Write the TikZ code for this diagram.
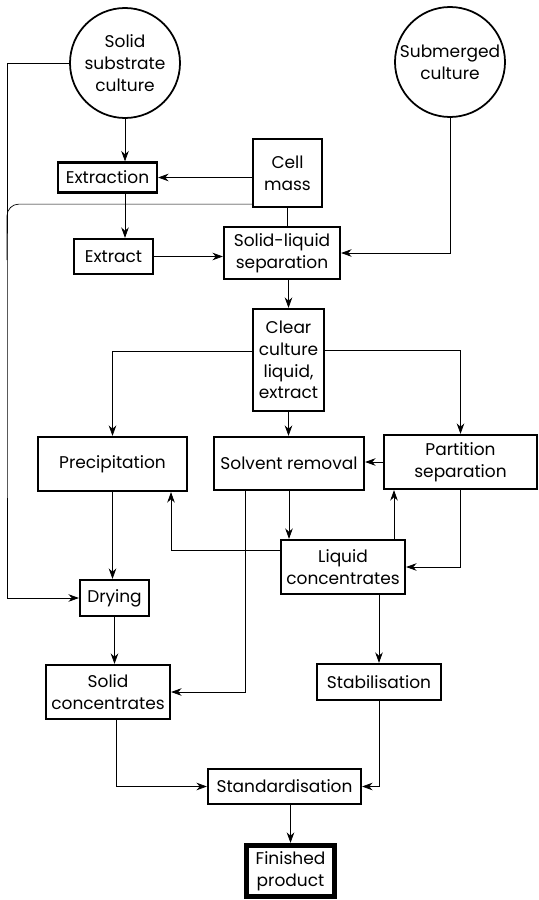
\documentclass[tikz,border=0pt]{standalone}
\usepackage{fontspec}
\setmainfont{Poppins}
\usetikzlibrary{arrows.meta,calc}

\begin{document}
\begin{tikzpicture}[x=0.03cm, y=-0.03cm,
    every node/.style={align=center, font=\fontsize{14.5}{18.5}\selectfont},
    box/.style={draw, rectangle, line width=1.9pt, inner sep=2pt},
    culture/.style={draw, circle, line width=1.5pt, minimum size=3.3cm, inner sep=0pt},
    finalbox/.style={draw, rectangle, line width=4.5pt, inner sep=2pt},
    link/.style={line width=0.6pt},
    arr/.style={link, -{Stealth[length=9pt, width=6.5pt, inset=3pt]}}]
    \useasboundingbox (0,0) rectangle (539,900);

    % Cultures
    \node[culture] (solid) at (125, 63) {Solid\\substrate\\culture};
    \node[culture] (subm) at (450, 62) {Submerged\\culture};

    % Upper part (extraction, separation)
    \node[box, minimum width=2.97cm, minimum height=0.9cm] (extraction) at (107.5, 177.5) {Extraction};
    \node[box, minimum width=2.07cm, minimum height=2.04cm] (cellmass) at (287.5, 173) {Cell\\mass};
    \node[box, minimum width=2.37cm, minimum height=1.05cm] (extract) at (113.5, 256.5) {Extract};
    \node[box, minimum width=3.48cm, minimum height=1.56cm] (slsep) at (282, 253) {Solid-liquid\\separation};
    \node[box, minimum width=2.13cm, minimum height=3.06cm] (clear) at (288.5, 360) {Clear\\culture\\liquid,\\extract};

    % Middle row
    \node[box, minimum width=4.47cm, minimum height=1.62cm] (precip) at (112.5, 464) {Precipitation};
    \node[box, minimum width=4.5cm, minimum height=1.59cm] (solvent) at (289, 463.5) {Solvent removal};
    \node[box, minimum width=4.59cm, minimum height=1.62cm] (partition) at (460.5, 462) {Partition\\separation};
    \node[box, minimum width=3.72cm, minimum height=1.62cm] (liquid) at (343, 567) {Liquid\\concentrates};
    \node[box, minimum width=2.07cm, minimum height=1.08cm] (drying) at (114.5, 598) {Drying};

    % Lower part
    \node[box, minimum width=3.72cm, minimum height=1.62cm] (solidconc) at (108, 692) {Solid\\concentrates};
    \node[box, minimum width=3.72cm, minimum height=1.08cm] (stab) at (379, 682) {Stabilisation};
    \node[box, minimum width=4.59cm, minimum height=1.05cm] (stand) at (284.5, 786.5) {Standardisation};
    \node[finalbox, minimum width=2.64cm, minimum height=1.53cm] (finished) at (290.5, 871) {Finished\\product};

    % Helper points for the long left line
    \coordinate (lft) at (7, 400);
    \coordinate (bend) at (7, 260);

    % Connections
    \draw[arr] (solid.west) -| (lft) |- (drying.west);
    \draw[link, rounded corners=10pt] ([yshift=0.12cm]cellmass.south west) -| (bend);
    \draw[arr] (solid.south) -- (solid.south |- extraction.north);
    \draw[arr] (cellmass.west |- extraction.east) -- (extraction.east);
    \draw[arr] (extraction.south -| solid.south) -- (extract.north -| solid.south);
    \draw[arr] (extract.east) -- (extract.east -| slsep.west);
    \draw[link] (cellmass.south) -- (cellmass.south |- slsep.north);
    \draw[arr] (subm.south) |- (slsep.east);
    \draw[arr] (slsep.south -| clear.north) -- (clear.north);
    \draw[arr] ([yshift=0.27cm]clear.west) -| (precip.north);
    \draw[arr] ([yshift=0.3cm]clear.east) -| (partition.north);
    \draw[arr] (clear.south) -- (clear.south |- solvent.north);
    \draw[arr] (partition.west) -- (partition.west -| solvent.east);
    \draw[arr] (solvent.south) -- (solvent.south |- liquid.north);
    \draw[arr] ([xshift=1.53cm]liquid.north) -- ([xshift=1.53cm]liquid.north |- partition.south);
    \draw[arr] (partition.south) |- (liquid.east);
    \draw[arr] ([yshift=0.51cm]liquid.west) -| ([xshift=1.755cm]precip.south);
    \draw[arr] ([xshift=-1.32cm]solvent.south) |- (solidconc.east);
    \draw[arr] (precip.south) -- (precip.south |- drying.north);
    \draw[arr] (drying.south) -- (drying.south |- solidconc.north);
    \draw[arr] (stab.north |- liquid.south) -- (stab.north);
    \draw[arr] (stab.south) |- (stand.east);
    \draw[arr] ([xshift=0.24cm]solidconc.south) |- (stand.west);
    \draw[arr] (stand.south -| finished.north) -- (finished.north);
\end{tikzpicture}
\end{document}
